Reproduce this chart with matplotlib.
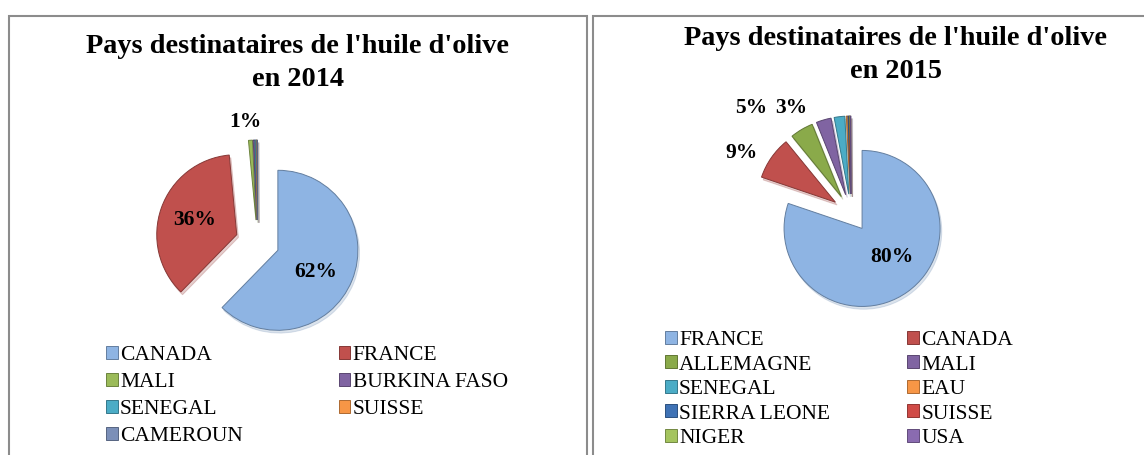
import numpy as np
import matplotlib.pyplot as plt
import matplotlib.colors as mcolors
from matplotlib.patches import Rectangle

# --- donnees ---
pays_2014 = ['CANADA', 'FRANCE', 'MALI', 'BURKINA FASO', 'SENEGAL', 'SUISSE', 'CAMEROUN']
parts_2014 = [62.3, 36.2, 0.8, 0.3, 0.2, 0.1, 0.1]
etiq_2014 = ['62%', '36%', '1%', '', '', '', '']

pays_2015 = ['FRANCE', 'CANADA', 'ALLEMAGNE', 'MALI', 'SENEGAL', 'EAU',
             'SIERRA LEONE', 'SUISSE', 'NIGER', 'USA']
parts_2015 = [80.2, 8.9, 4.8, 3.1, 2.2, 0.3, 0.2, 0.1, 0.1, 0.1]
etiq_2015 = ['80%', '9%', '5%', '3%', '', '', '', '', '', '']

titre_2014 = "Pays destinataires de l'huile d'olive\nen 2014"
titre_2015 = "Pays destinataires de l'huile d'olive\nen 2015"

# couleurs (style Excel 2007)
coul_2014 = ['#8EB4E3', '#C0504D', '#9BBB59', '#8064A2', '#4BACC6', '#F79646', '#7B8FB8']
coul_2015 = ['#8EB4E3', '#C0504D', '#8AAA4A', '#8064A2', '#4BACC6', '#F79646',
             '#3F72B5', '#D04B47', '#A4C45E', '#8A6BB0']

plt.rcParams['font.family'] = ['Liberation Serif', 'DejaVu Serif']

W, H = 1144, 455
fig = plt.figure(figsize=(W / 100, H / 100), dpi=100)
ax = fig.add_axes([0, 0, 1, 1])


def sombre(c, f=0.7):
    r, g, b = mcolors.to_rgb(c)
    return (r * f, g * f, b * f)


def camembert(vals, noms, coul, etiqs, cx, cy, r, expl, pos_etiq,
              titre, tx, ty1, leg_xy, leg_sp, col_sp):
    wedges, _ = ax.pie(vals, colors=coul, startangle=90, counterclock=False,
                       center=(cx, H - cy), radius=r, explode=[expl] * len(vals),
                       wedgeprops=dict(linewidth=0.7),
                       shadow=dict(ox=1.2, oy=-2.0, shade=0.2, alpha=0.25))
    for w, c in zip(wedges, coul):
        w.set_edgecolor(sombre(c))

    # etiquettes de pourcentage
    for w, t, (dist, dang) in zip(wedges, etiqs, pos_etiq):
        if not t:
            continue
        a = np.deg2rad((w.theta1 + w.theta2) / 2 + dang)
        x = w.center[0] + dist * r * np.cos(a)
        y = w.center[1] + dist * r * np.sin(a)
        ax.text(x, y, t, ha='center', va='center', fontsize=15.5, fontweight='bold')

    # titre sur deux lignes
    for i, ligne in enumerate(titre.split('\n')):
        ax.text(tx, H - (ty1 + 33 * i), ligne, ha='center', va='baseline',
                fontsize=20.3, fontweight='bold')

    # legende remplie ligne par ligne
    n = len(noms)
    ordre = list(range(0, n, 2)) + list(range(1, n, 2))
    leg = fig.legend([wedges[i] for i in ordre], [noms[i] for i in ordre], ncol=2,
                     loc='upper left', bbox_to_anchor=(leg_xy[0] / W, 1 - leg_xy[1] / H),
                     frameon=False, fontsize=15.5, handlelength=0.55, handleheight=0.55,
                     handletextpad=0.1, labelspacing=leg_sp, columnspacing=col_sp,
                     borderpad=0, borderaxespad=0)
    return leg


camembert(parts_2014, pays_2014, coul_2014, etiq_2014,
          257.5, 242, 80, 22,
          [(0.55, -8), (0.56, 0), (1.23, 2)] + [(0, 0)] * 4,
          titre_2014, 298, 53, (106, 346), 0.36, 4.45)

camembert(parts_2015, pays_2015, coul_2015, etiq_2015,
          851, 213, 78, 19,
          [(0.53, 10), (1.36, 7), (1.62, 15), (1.31, 15.6)] + [(0, 0)] * 6,
          titre_2015, 896, 45, (665, 331), 0.25, 3.6)

# cadres des deux graphiques
ax.add_patch(Rectangle((9, -10), 577.5, H - 16 + 10, fill=False,
                       edgecolor='#8c8c8c', linewidth=1.5))
ax.add_patch(Rectangle((593, -10), 700, H - 16 + 10, fill=False,
                       edgecolor='#8c8c8c', linewidth=1.5))

ax.set_xlim(0, W)
ax.set_ylim(0, H)
ax.set_aspect('equal')
ax.axis('off')

fig.savefig('out.png', dpi=100)
